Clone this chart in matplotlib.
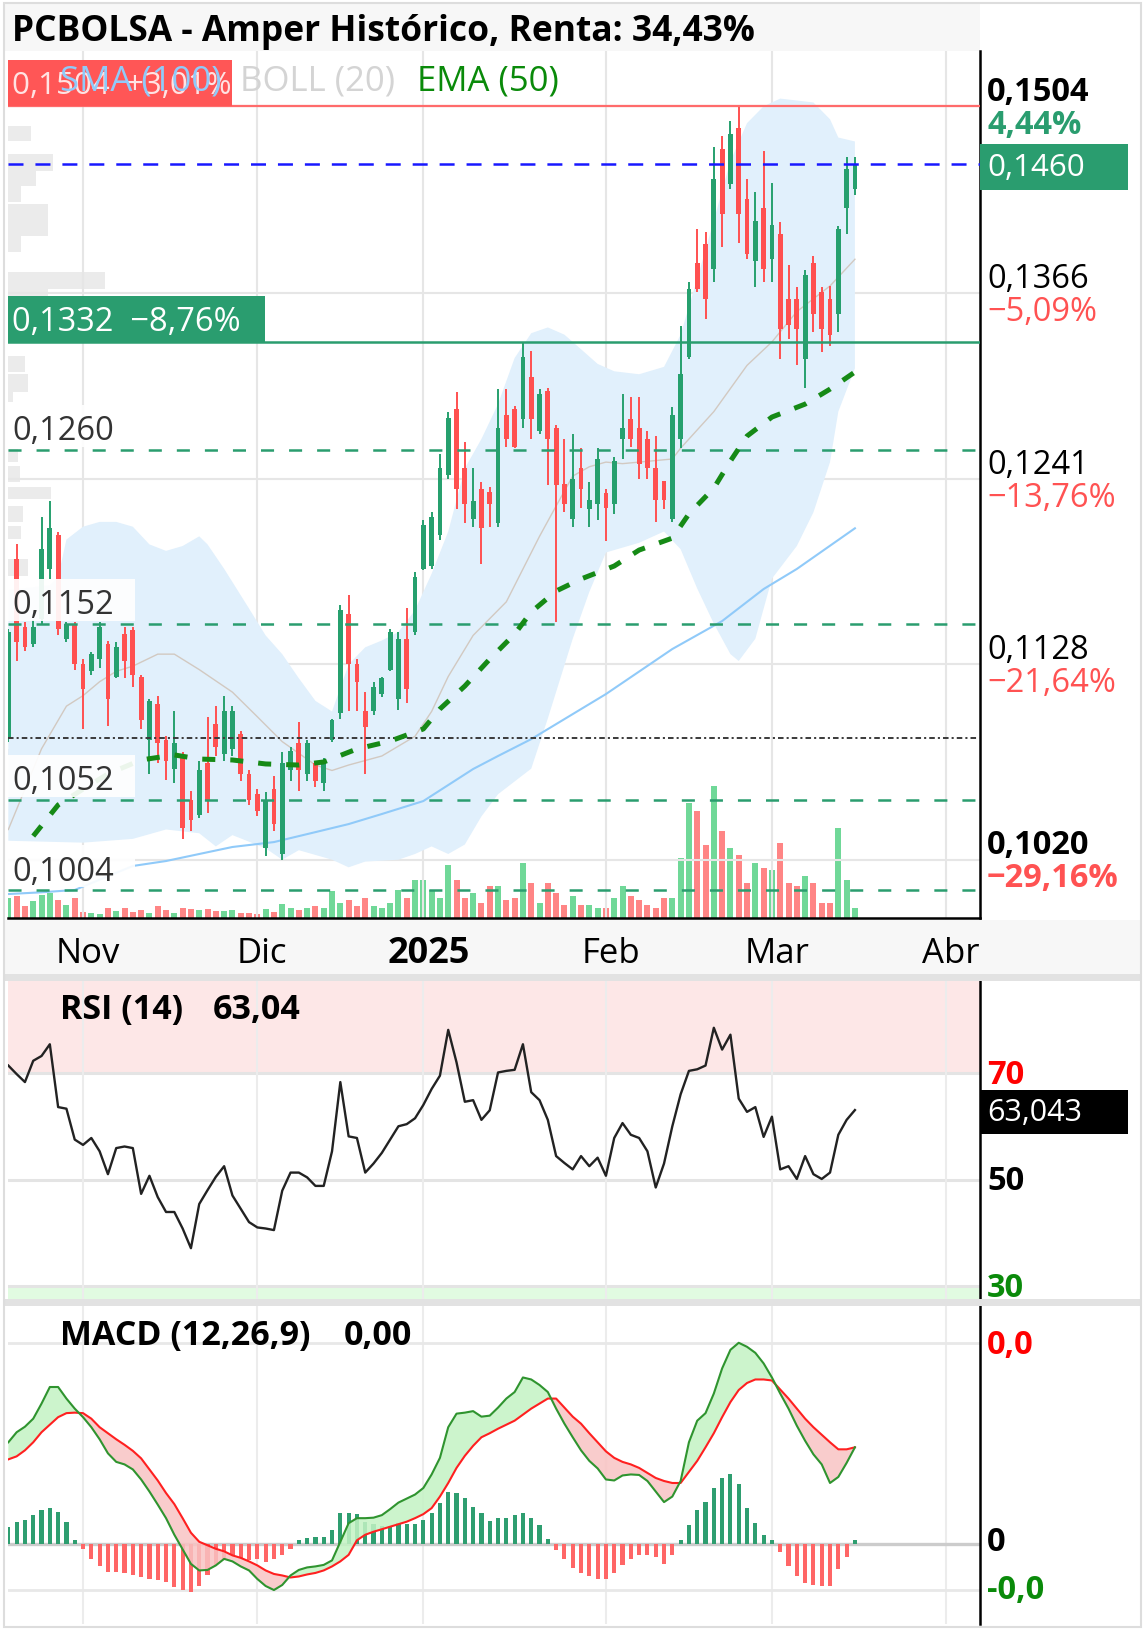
import numpy as np
import matplotlib
matplotlib.use("Agg")
import matplotlib.pyplot as plt
from matplotlib import font_manager as fm
from matplotlib.patches import Rectangle
from matplotlib.ticker import NullLocator
from matplotlib.transforms import blended_transform_factory


def pick_family():
    wmap = {"normal": 400, "regular": 400, "medium": 500, "semibold": 600, "demibold": 600,
            "bold": 700, "heavy": 800, "black": 900, "light": 300}
    fams = {}
    for f in fm.fontManager.ttflist:
        w = f.weight if isinstance(f.weight, int) else wmap.get(str(f.weight).lower(), 400)
        fams.setdefault(f.name, set()).add(w)
    for fam in ["Noto Sans", "Open Sans", "Roboto", "Lato", "Liberation Sans"]:
        ws = fams.get(fam, set())
        if any(w >= 600 for w in ws) and any(w <= 500 for w in ws):
            return fam
    return "DejaVu Sans"


FAMILY = pick_family()
plt.rcParams["font.family"] = [FAMILY, "DejaVu Sans"]
plt.rcParams["lines.scale_dashes"] = False

# ------------------------------------------------------------------ data
title = "PCBOLSA - Amper Histórico, Renta: 34,43%"

opens = [0.1086, 0.1191, 0.1150, 0.1140, 0.1155, 0.1185, 0.1206, 0.1143, 0.1152, 0.1128,
         0.1124, 0.1131, 0.1140, 0.1121, 0.1146, 0.1148, 0.1121, 0.1085, 0.1105, 0.1085,
         0.1069, 0.1075, 0.1052, 0.1044, 0.1072, 0.1094, 0.1077, 0.1080, 0.1088, 0.1066,
         0.1055, 0.1026, 0.1058, 0.1023, 0.1068, 0.1083, 0.1066, 0.1072, 0.1061, 0.1085,
         0.1100, 0.1158, 0.1128, 0.1101, 0.1101, 0.1111, 0.1125, 0.1108, 0.1143, 0.1147,
         0.1185, 0.1187, 0.1206, 0.1244, 0.1287, 0.1248, 0.1216, 0.1235, 0.1233, 0.1213,
         0.1283, 0.1287, 0.1280, 0.1308, 0.1272, 0.1299, 0.1274, 0.1238, 0.1216, 0.1248,
         0.1222, 0.1225, 0.1232, 0.1225, 0.1267, 0.1280, 0.1274, 0.1267, 0.1248, 0.1240,
         0.1216, 0.1267, 0.1322, 0.1387, 0.1401, 0.1383, 0.1471, 0.1445, 0.1487, 0.1434,
         0.1389, 0.1427, 0.1390, 0.1408, 0.1362, 0.1362, 0.1320, 0.1387, 0.1367, 0.1362,
         0.1351, 0.1427, 0.1441]
closes = [0.1147, 0.1141, 0.1138, 0.1150, 0.1197, 0.1210, 0.1149, 0.1152, 0.1128, 0.1114,
          0.1134, 0.1150, 0.1108, 0.1138, 0.1130, 0.1122, 0.1096, 0.1107, 0.1083, 0.1073,
          0.1083, 0.1037, 0.1041, 0.1068, 0.1052, 0.1081, 0.1101, 0.1101, 0.1066, 0.1052,
          0.1046, 0.1052, 0.1039, 0.1072, 0.1079, 0.1068, 0.1083, 0.1062, 0.1073, 0.1096,
          0.1160, 0.1128, 0.1118, 0.1092, 0.1115, 0.1120, 0.1147, 0.1143, 0.1114, 0.1180,
          0.1212, 0.1217, 0.1248, 0.1281, 0.1235, 0.1225, 0.1227, 0.1210, 0.1225, 0.1274,
          0.1267, 0.1262, 0.1322, 0.1280, 0.1297, 0.1267, 0.1237, 0.1225, 0.1241, 0.1235,
          0.1228, 0.1254, 0.1223, 0.1253, 0.1274, 0.1267, 0.1251, 0.1248, 0.1228, 0.1228,
          0.1283, 0.1310, 0.1369, 0.1369, 0.1362, 0.1449, 0.1423, 0.1483, 0.1423, 0.1394,
          0.1418, 0.1383, 0.1415, 0.1341, 0.1344, 0.1341, 0.1379, 0.1351, 0.1341, 0.1337,
          0.1412, 0.1456, 0.1460]
highs = [0.1149, 0.1200, 0.1153, 0.1154, 0.1217, 0.1227, 0.1208, 0.1153, 0.1153, 0.1131,
         0.1135, 0.1153, 0.1142, 0.1141, 0.1150, 0.1150, 0.1122, 0.1108, 0.1110, 0.1087,
         0.1101, 0.1078, 0.1057, 0.1073, 0.1098, 0.1104, 0.1110, 0.1104, 0.1090, 0.1068,
         0.1058, 0.1056, 0.1065, 0.1078, 0.1081, 0.1095, 0.1085, 0.1073, 0.1075, 0.1097,
         0.1163, 0.1169, 0.1131, 0.1112, 0.1118, 0.1121, 0.1149, 0.1147, 0.1161, 0.1183,
         0.1215, 0.1220, 0.1257, 0.1285, 0.1298, 0.1265, 0.1248, 0.1239, 0.1236, 0.1300,
         0.1300, 0.1289, 0.1332, 0.1326, 0.1300, 0.1301, 0.1276, 0.1267, 0.1270, 0.1261,
         0.1239, 0.1261, 0.1235, 0.1255, 0.1297, 0.1295, 0.1295, 0.1272, 0.1269, 0.1240,
         0.1288, 0.1343, 0.1374, 0.1412, 0.1410, 0.1473, 0.1481, 0.1493, 0.1504, 0.1449,
         0.1439, 0.1470, 0.1446, 0.1417, 0.1386, 0.1370, 0.1382, 0.1392, 0.1370, 0.1371,
         0.1414, 0.1465, 0.1465]
lows = [0.1084, 0.1130, 0.1136, 0.1138, 0.1152, 0.1179, 0.1145, 0.1141, 0.1125, 0.1091,
        0.1122, 0.1126, 0.1093, 0.1120, 0.1120, 0.1115, 0.1091, 0.1066, 0.1072, 0.1063,
        0.1061, 0.1031, 0.1035, 0.1042, 0.1045, 0.1076, 0.1073, 0.1076, 0.1062, 0.1049,
        0.1043, 0.1022, 0.1035, 0.1020, 0.1062, 0.1057, 0.1062, 0.1059, 0.1057, 0.1084,
        0.1097, 0.1101, 0.1101, 0.1066, 0.1099, 0.1109, 0.1124, 0.1102, 0.1106, 0.1145,
        0.1184, 0.1185, 0.1203, 0.1241, 0.1222, 0.1213, 0.1211, 0.1188, 0.1211, 0.1211,
        0.1262, 0.1261, 0.1274, 0.1267, 0.1270, 0.1237, 0.1153, 0.1220, 0.1211, 0.1223,
        0.1211, 0.1215, 0.1202, 0.1219, 0.1254, 0.1262, 0.1241, 0.1241, 0.1214, 0.1222,
        0.1214, 0.1261, 0.1320, 0.1367, 0.1348, 0.1374, 0.1399, 0.1441, 0.1402, 0.1390,
        0.1370, 0.1374, 0.1374, 0.1320, 0.1334, 0.1316, 0.1301, 0.1339, 0.1325, 0.1329,
        0.1339, 0.1408, 0.1437]
volume = [20, 22, 12, 17, 23, 25, 18, 13, 20, 6,
          5, 4, 10, 7, 10, 6, 8, 5, 12, 8,
          5, 10, 9, 8, 9, 7, 7, 8, 5, 5,
          4, 9, 6, 14, 10, 8, 10, 12, 10, 27,
          15, 18, 12, 20, 12, 10, 15, 28, 20, 38,
          38, 28, 20, 53, 38, 20, 25, 15, 32, 32,
          18, 20, 55, 35, 15, 35, 25, 13, 22, 13,
          13, 10, 10, 20, 32, 22, 18, 13, 10, 20,
          20, 60, 115, 107, 73, 132, 87, 70, 63, 35,
          55, 50, 48, 75, 35, 32, 42, 35, 15, 15,
          90, 38, 10]

# moving averages / bands read at selected candles
ema_idx = [3, 6, 9, 12, 16, 20, 23, 27, 31, 35, 38, 42, 46, 50, 52, 55, 58, 61, 63, 66,
           69, 73, 76, 80, 82, 85, 87, 89, 92, 96, 99, 102]
ema_vals = [0.10325, 0.10492, 0.10578, 0.10661, 0.10738, 0.10766, 0.10743, 0.10738, 0.10716,
            0.10710, 0.10727, 0.10799, 0.10843, 0.10911, 0.11024, 0.11155, 0.11311, 0.11458,
            0.11589, 0.11715, 0.11788, 0.11867, 0.11965, 0.12039, 0.12190, 0.12353, 0.12527,
            0.12689, 0.12814, 0.12900, 0.13000, 0.13115]
sma_idx = [0, 4, 8, 15, 19, 23, 27, 32, 37, 41, 45, 50, 56, 59, 63, 72, 80, 86, 91, 95, 102]
sma_vals = [0.10021, 0.10030, 0.10042, 0.10167, 0.10193, 0.10230, 0.10267, 0.10293, 0.10346,
            0.10389, 0.10443, 0.10513, 0.10688, 0.10760, 0.10854, 0.11109, 0.11370, 0.11535,
            0.11727, 0.11849, 0.12100]
bb_up_idx = [0, 5, 6, 7, 9, 11, 13, 15, 17, 19, 21, 23, 24, 26, 29, 31, 33, 35, 37, 39, 41,
             43, 45, 47, 49, 51, 53, 55, 57, 59, 61, 63, 65, 67, 69, 71, 73, 76, 79, 81, 83,
             85, 87, 89, 91, 93, 97, 99, 100, 102]
bb_up = [0.1172, 0.1175, 0.1180, 0.1203, 0.1211, 0.1214, 0.1214, 0.1211, 0.1200, 0.1196,
         0.1199, 0.1205, 0.1200, 0.1185, 0.1161, 0.1145, 0.1134, 0.1120, 0.1107, 0.1101,
         0.1128, 0.1138, 0.1142, 0.1147, 0.1160, 0.1182, 0.1208, 0.1248, 0.1267, 0.1290,
         0.1321, 0.1338, 0.1342, 0.1337, 0.1327, 0.1317, 0.1312, 0.1310, 0.1315, 0.1337,
         0.1376, 0.1418, 0.1462, 0.1491, 0.1504, 0.1510, 0.1507, 0.1494, 0.1480, 0.1477]
bb_lo_idx = [0, 9, 15, 19, 23, 25, 27, 31, 33, 35, 39, 41, 43, 47, 49, 51, 53, 55, 57, 59,
             63, 65, 68, 70, 72, 76, 79, 81, 83, 85, 87, 88, 90, 92, 95, 97, 99, 100, 102]
bb_lo = [0.1030, 0.1029, 0.1031, 0.1036, 0.1034, 0.1027, 0.1033, 0.1026, 0.1020, 0.1025,
         0.1020, 0.1016, 0.1019, 0.1020, 0.1023, 0.1027, 0.1023, 0.1028, 0.1043, 0.1055,
         0.1069, 0.1097, 0.1143, 0.1171, 0.1195, 0.1201, 0.1208, 0.1197, 0.1173, 0.1152,
         0.1134, 0.1130, 0.1143, 0.1179, 0.1199, 0.1220, 0.1252, 0.1285, 0.1314]
bb_mid_idx = [0, 4, 7, 9, 11, 13, 15, 18, 20, 23, 27, 30, 33, 37, 39, 41, 45, 49, 51, 53,
              56, 60, 64, 66, 68, 70, 72, 74, 76, 80, 81, 85, 89, 92, 95, 99, 102]
bb_mid = [0.1036, 0.1080, 0.1104, 0.1110, 0.1118, 0.1124, 0.1127, 0.1134, 0.1134, 0.1125,
          0.1112, 0.1098, 0.1084, 0.1071, 0.1068, 0.1071, 0.1076, 0.1087, 0.1101, 0.1121,
          0.1145, 0.1165, 0.1205, 0.1224, 0.1243, 0.1249, 0.1252, 0.1251, 0.1252, 0.1254,
          0.1261, 0.1285, 0.1316, 0.1332, 0.1353, 0.1371, 0.1390]

# volume-at-price profile (left edge)
vp_lo = [0.14773, 0.14547, 0.14435, 0.14316, 0.14191, 0.14067, 0.13952, 0.13688, 0.13639,
         0.13115, 0.12980, 0.12914, 0.12520, 0.12392, 0.12284, 0.12139, 0.12033, 0.11806,
         0.11311, 0.10950, 0.10760]
vp_hi = [0.14888, 0.14675, 0.14547, 0.14435, 0.14301, 0.14191, 0.14067, 0.13809, 0.13688,
         0.13224, 0.13101, 0.12980, 0.12605, 0.12495, 0.12360, 0.12239, 0.12114, 0.11910,
         0.11411, 0.11063, 0.10799]
vp_vol = [2.8, 5.4, 3.4, 1.6, 4.8, 4.8, 1.6, 11.7, 4.8, 2.0, 2.4, 0.6, 1.2, 1.4, 5.2, 1.8,
          1.6, 2.4, 3.3, 2.4, 2.2]

rsi = [71.4, 69.8, 68.3, 72.3, 73.2, 75.4, 63.6, 63.3, 57.5, 56.5,
       57.8, 55.3, 51.0, 55.9, 56.2, 55.9, 47.3, 50.7, 46.7, 43.9,
       43.9, 40.8, 37.1, 45.4, 48.0, 50.5, 52.5, 47.0, 44.5, 42.0,
       41.0, 40.8, 40.5, 47.9, 51.3, 51.3, 50.4, 48.8, 48.8, 55.3,
       68.3, 58.1, 57.8, 51.3, 53.0, 55.0, 57.5, 60.0, 60.4, 61.5,
       64.0, 67.0, 69.5, 78.1, 72.0, 64.6, 64.9, 61.2, 63.0, 70.1,
       70.4, 70.6, 75.4, 66.4, 64.9, 61.2, 54.4, 53.1, 51.9, 54.4,
       52.5, 54.1, 50.7, 57.8, 60.6, 58.4, 57.8, 55.3, 48.5, 53.0,
       60.0, 66.0, 70.4, 70.7, 71.4, 78.5, 74.4, 77.2, 65.2, 62.7,
       63.6, 58.0, 61.8, 51.9, 52.5, 50.1, 54.4, 51.0, 50.1, 51.3,
       58.4, 61.2, 63.04]

MACD_UNIT = 1e-3
macd = [2.03, 2.23, 2.34, 2.50, 2.80, 3.13, 3.13, 2.90, 2.70, 2.53,
        2.33, 2.09, 1.81, 1.64, 1.59, 1.49, 1.29, 1.05, 0.79, 0.52,
        0.19, -0.10, -0.39, -0.52, -0.51, -0.42, -0.29, -0.34, -0.44, -0.52,
        -0.69, -0.83, -0.91, -0.81, -0.62, -0.51, -0.46, -0.44, -0.41, -0.32,
        0.05, 0.42, 0.52, 0.52, 0.53, 0.58, 0.70, 0.83, 0.91, 0.99,
        1.12, 1.39, 1.72, 2.33, 2.60, 2.62, 2.65, 2.54, 2.56, 2.72,
        2.90, 3.03, 3.32, 3.28, 3.17, 3.03, 2.70, 2.40, 2.13, 1.87,
        1.66, 1.51, 1.29, 1.27, 1.37, 1.39, 1.38, 1.26, 1.05, 0.84,
        0.95, 1.26, 2.03, 2.46, 2.61, 3.00, 3.50, 3.87, 4.01, 3.93,
        3.81, 3.60, 3.32, 3.00, 2.70, 2.36, 2.06, 1.79, 1.59, 1.22,
        1.34, 1.62, 1.93]
signal = [1.69, 1.75, 1.87, 2.03, 2.23, 2.38, 2.53, 2.61, 2.62, 2.61,
          2.50, 2.33, 2.21, 2.09, 1.98, 1.86, 1.71, 1.49, 1.27, 1.02,
          0.80, 0.52, 0.23, 0.05, -0.02, -0.09, -0.14, -0.22, -0.27, -0.34,
          -0.42, -0.52, -0.59, -0.62, -0.66, -0.64, -0.60, -0.57, -0.52, -0.44,
          -0.34, -0.21, 0.08, 0.19, 0.25, 0.30, 0.35, 0.40, 0.45, 0.52,
          0.60, 0.72, 0.95, 1.22, 1.52, 1.76, 1.96, 2.13, 2.21, 2.30,
          2.38, 2.46, 2.58, 2.70, 2.80, 2.90, 2.90, 2.72, 2.54, 2.40,
          2.21, 2.03, 1.85, 1.72, 1.64, 1.59, 1.52, 1.42, 1.32, 1.26,
          1.22, 1.22, 1.44, 1.66, 1.93, 2.21, 2.53, 2.83, 3.07, 3.21,
          3.28, 3.28, 3.26, 3.08, 2.90, 2.70, 2.50, 2.33, 2.18, 2.03,
          1.89, 1.89, 1.93]
hist = [0.35, 0.45, 0.48, 0.58, 0.68, 0.73, 0.65, 0.45, 0.08, -0.09,
        -0.29, -0.44, -0.56, -0.56, -0.57, -0.62, -0.66, -0.69, -0.72, -0.76,
        -0.84, -0.91, -0.95, -0.83, -0.62, -0.42, -0.29, -0.22, -0.27, -0.31,
        -0.29, -0.36, -0.29, -0.22, -0.09, 0.08, 0.13, 0.15, 0.15, 0.28,
        0.62, 0.62, 0.60, 0.44, 0.40, 0.36, 0.37, 0.42, 0.40, 0.40,
        0.48, 0.62, 0.82, 1.05, 1.02, 0.92, 0.75, 0.62, 0.46, 0.52,
        0.53, 0.58, 0.62, 0.52, 0.38, 0.11, -0.12, -0.29, -0.48, -0.57,
        -0.64, -0.69, -0.69, -0.57, -0.42, -0.29, -0.22, -0.22, -0.26, -0.39,
        -0.22, 0.08, 0.38, 0.68, 0.85, 1.12, 1.31, 1.39, 1.19, 0.72,
        0.42, 0.19, 0.08, -0.15, -0.44, -0.64, -0.77, -0.81, -0.83, -0.83,
        -0.49, -0.25, 0.08]

month_idx = [9, 30, 50, 72, 92, 113]
month_labels = ["Nov", "Dic", "2025", "Feb", "Mar", "Abr"]

grid_levels = [0.1504, 0.1366, 0.1241, 0.1128, 0.1020]
grid_labels = ["0,1504", "0,1366", "0,1241", "0,1128", "0,1020"]
grid_pcts = ["4,44%", "\u22125,09%", "\u221213,76%", "\u221221,64%", "\u221229,16%"]
support_levels = [0.1260, 0.1152, 0.1052, 0.1004]
support_labels = ["0,1260", "0,1152", "0,1052", "0,1004"]
high_level, high_label = 0.1504, "0,1504  +3,01%"
low_level, low_label = 0.1332, "0,1332  \u22128,76%"
last_price, last_label = 0.1460, "0,1460"
start_price = 0.1086
rsi_levels = [70, 50, 30]
macd_levels = [4e-3, 0.0, -0.9e-3]
macd_level_labels = ["0,0", "0", "-0,0"]

# ------------------------------------------------------------------ style
W, H = 1145, 1633
GREEN = "#26a06e"
RED = "#ff5050"
FS = 23.5
L, R = 8, 980
XLIM = (-0.04, 117.07)

fig = plt.figure(figsize=(W / 100, H / 100), dpi=100)
fig.patch.set_facecolor("white")


def frect(x0, y0, x1, y1, **kw):
    r = Rectangle((x0 / W, 1 - y1 / H), (x1 - x0) / W, (y1 - y0) / H,
                  transform=fig.transFigure, **kw)
    fig.add_artist(r)
    return r


def ftext(x, y, s, **kw):
    kw.setdefault("zorder", 6)
    kw.setdefault("va", "center")
    kw.setdefault("fontsize", FS)
    return fig.text(x / W, 1 - y / H, s, **kw)


def add_ax(top, bottom):
    return fig.add_axes([L / W, 1 - bottom / H, (R - L) / W, (bottom - top) / H])


def ypx(axis, v):
    return H - axis.transData.transform((0, v))[1]


def style_spines(axis, bottom=False):
    for s in ("top", "left"):
        axis.spines[s].set_visible(False)
    axis.spines["right"].set_color("black")
    axis.spines["right"].set_linewidth(1.8)
    axis.spines["bottom"].set_visible(bottom)
    if bottom:
        axis.spines["bottom"].set_color("black")
        axis.spines["bottom"].set_linewidth(1.8)
    axis.tick_params(length=0, labelleft=False, labelbottom=False, labelright=False)


# backgrounds
frect(5, 5, 980, 52, fc="#f7f7f7", ec="none", zorder=0.05)
frect(5, 921, 1141, 975, fc="#f7f7f7", ec="none", zorder=0.05)
frect(5, 975, 1141, 982, fc="#e2e2e2", ec="none", zorder=0.05)
frect(5, 1300, 1141, 1307, fc="#e2e2e2", ec="none", zorder=0.05)
frect(4, 4, 1141, 1628, fill=False, ec="#dddddd", lw=1.5, zorder=9)

n = len(closes)
x = np.arange(n)
o, c, h, l = map(np.asarray, (opens, closes, highs, lows))
up = c >= o

# ------------------------------------------------------------------ main panel
ax = add_ax(52, 919)
ax.set_yscale("log")
ax.set_xlim(*XLIM)
ax.set_ylim(0.09898, 0.15475)
axv = ax.twinx()
axv.set_ylim(0, max(volume) * 6.57)
axv.set_zorder(0.1)
ax.set_zorder(0.2)
ax.patch.set_visible(False)
for s in axv.spines.values():
    s.set_visible(False)
axv.tick_params(length=0, labelright=False)
axv.bar(x, volume, width=0.72, color=np.where(up, "#70d898", "#ff8585"), zorder=1)

style_spines(ax, bottom=True)
ax.set_yticks(grid_levels)
ax.yaxis.set_minor_locator(NullLocator())
ax.set_xticks(month_idx)
ax.grid(True, color="#e6e6e6", lw=1.5)
ax.set_axisbelow(True)

ax.barh(vp_lo, vp_vol, height=np.array(vp_hi) - np.array(vp_lo), left=XLIM[0],
        align="edge", color="#ebebeb", zorder=0.5)
ax.fill(np.r_[bb_up_idx, bb_lo_idx[::-1]], np.r_[bb_up, bb_lo[::-1]],
        color="#e1f0fc", lw=0, zorder=1)
ax.plot(bb_mid_idx, bb_mid, color="#d2c9c1", lw=1.0, zorder=2)
ax.plot(sma_idx, sma_vals, color="#90caf9", lw=1.5, zorder=2.5)

ax.vlines(x, l, h, colors=np.where(up, GREEN, RED), lw=1.4, zorder=5)
ax.bar(x, np.abs(c - o), bottom=np.minimum(o, c), width=0.58,
       color=np.where(up, GREEN, RED), zorder=6)

ax.axhline(high_level, color="#ff6b6b", lw=1.6, zorder=7)
ax.axhline(last_price, color="#1818ff", lw=1.8, dashes=(10.8, 8.6), zorder=7)
ax.axhline(low_level, color="#2a9d6f", lw=1.8, zorder=7)
for lv in support_levels:
    ax.axhline(lv, color="#2a9d6f", lw=1.8, dashes=(9.4, 10.8), zorder=7)
ax.axhline(start_price, color="#3a3a3a", lw=1.4, dashes=(4, 2.2, 1.5, 2.2), zorder=7)
ax.plot(ema_idx, ema_vals, color="#168a16", lw=3.6, dashes=(9.4, 10.8), zorder=8)

# right price labels
for i, (v, lab, pct) in enumerate(zip(grid_levels, grid_labels, grid_pcts)):
    bold = i in (0, len(grid_levels) - 1)
    yl = ypx(ax, v)
    ftext(987, yl - 15, lab, color="black", weight="bold" if bold else "normal")
    ftext(987, yl + 18, pct, color="#2a9d6f" if i == 0 else "#ff5252",
          weight="bold" if bold else "normal")

yl = ypx(ax, last_price)
frect(980, yl - 20, 1128, yl + 26, fc="#2a9d6f", ec="none", zorder=5)
ftext(987, yl + 3, last_label, color="white", fontsize=22.5)

yl = ypx(ax, high_level)
frect(8, yl - 46, 232, yl, fc="#ff5656", ec="none", zorder=5)
ftext(12, yl - 21, high_label, color="#ffe3e3", fontsize=22.5)

yl = ypx(ax, low_level)
frect(8, yl - 46, 265, yl, fc="#2a9d6f", ec="none", zorder=5)
ftext(12, yl - 20, low_label, color="white")

for v, lab in zip(support_levels, support_labels):
    yl = ypx(ax, v)
    frect(8, yl - 45, 135, yl - 3, fc="white", ec="none", alpha=0.92, zorder=5)
    ftext(12, yl - 19, lab, color="#333333")

# title + legend
ftext(12, 32, title, fontsize=25.5, weight="bold", color="black")
ftext(60, 82, "SMA (100)", color="#90caf9", fontsize=25)
ftext(240, 82, "BOLL (20)", color="#d4d4d4", fontsize=25)
ftext(417, 82, "EMA (50)", color="#0a8a0a", fontsize=25)

# date labels
tr = blended_transform_factory(ax.transData, fig.transFigure)
for idx, lab in zip(month_idx, month_labels):
    fig.text(idx + 0.6, 1 - 954 / H, lab, transform=tr, ha="center", va="center",
             fontsize=26 if lab == "2025" else 25, weight="bold" if lab == "2025" else "normal",
             zorder=6)

# ------------------------------------------------------------------ RSI panel
axr = add_ax(982, 1300)
axr.set_xlim(*XLIM)
RSI_LIM = (27.56, 87.28)
axr.set_ylim(*RSI_LIM)
style_spines(axr)
axr.axhspan(70, RSI_LIM[1], color="#fde7e7", lw=0, zorder=0)
axr.axhspan(RSI_LIM[0], 30, color="#e1fbe1", lw=0, zorder=0)
for lv in rsi_levels:
    axr.axhline(lv, color="#e4e4e4", lw=2.2, zorder=1)
for idx in month_idx:
    axr.axvline(idx, color="#ececec", lw=1.5, zorder=1)
axr.plot(x, rsi, color="#222222", lw=1.7, zorder=3)
for lv, col in zip(rsi_levels, ["#ff0000", "black", "#0a8a0a"]):
    ftext(987, ypx(axr, lv) + 1, str(lv), color=col, weight="bold")
yc = ypx(axr, rsi[-1])
frect(980, yc - 20, 1128, yc + 24, fc="black", ec="none", zorder=5)
ftext(987, yc + 2, "63,043", color="white", fontsize=22)
ftext(60, 1010, "RSI (14)", weight="bold", fontsize=24.5)
ftext(213, 1010, "63,04", weight="bold", fontsize=24.5)

# ------------------------------------------------------------------ MACD panel
axm = add_ax(1307, 1625)
axm.set_xlim(*XLIM)
axm.set_ylim(-1.586e-3, 4.742e-3)
style_spines(axm)
for idx in month_idx:
    axm.axvline(idx, color="#ececec", lw=1.5, zorder=0)
axm.axhline(macd_levels[0], color="#e8e8e8", lw=2, zorder=0)
axm.axhline(macd_levels[2], color="#e8e8e8", lw=2, zorder=0)
axm.axhline(0, color="#cccccc", lw=2.4, zorder=0.5)
mv = np.array(macd) * MACD_UNIT
sv = np.array(signal) * MACD_UNIT
hv = np.array(hist) * MACD_UNIT
axm.bar(x, hv, width=0.5, color=np.where(hv >= 0, "#2e9e70", "#ff6666"), zorder=1)
axm.fill_between(x, mv, sv, where=mv >= sv, interpolate=True, color="#c4f3c4",
                 alpha=0.85, lw=0, zorder=2)
axm.fill_between(x, mv, sv, where=mv < sv, interpolate=True, color="#f9c3c3",
                 alpha=0.85, lw=0, zorder=2)
axm.plot(x, sv, color="#ff2020", lw=1.5, zorder=3)
axm.plot(x, mv, color="#2f942f", lw=1.5, zorder=4)
for lv, lab, col, dy in zip(macd_levels, macd_level_labels,
                            ["#ff0000", "black", "#0a8a0a"], [1, -3, 0]):
    ftext(987, ypx(axm, lv) + dy, lab, color=col, weight="bold")
ftext(60, 1336, "MACD (12,26,9)", weight="bold", fontsize=24.5)
ftext(344, 1336, "0,00", weight="bold", fontsize=24.5)

fig.savefig("out.png", dpi=100, facecolor="white")
